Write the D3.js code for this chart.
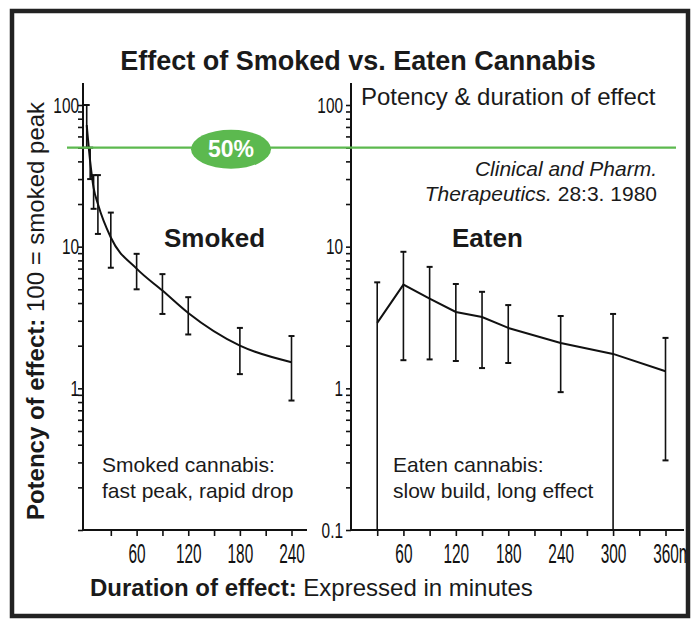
<!DOCTYPE html>
<html>
<head>
<meta charset="utf-8">
<script src="https://cdn.jsdelivr.net/npm/d3@7"></script>
<style>
    body { margin: 0; background: #fff; }
    svg { display: block; font-family: "Liberation Sans", Arial, Helvetica, sans-serif; }
</style>
</head>
<body>
<div id="chart"></div>
<script>
///// DATA //////
// Smoked cannabis: minutes, mean potency and error bar ends (100 = smoked peak)
let smokedTime = [2, 6, 10, 15, 30, 60, 90, 120, 180, 240];
let smokedMean = [72, 40, 26, 20, 11.6, 7.0, 4.9, 3.4, 2.0, 1.53];
let smokedLow  = [50, 30, 18.5, 12.3, 7.1, 5.0, 3.35, 2.4, 1.26, 0.82];
let smokedHigh = [100, 50, 32, 32, 17.4, 8.9, 6.4, 4.4, 2.67, 2.34];

// Eaten cannabis
let eatenTime = [30, 60, 90, 120, 150, 180, 240, 300, 360];
let eatenMean = [2.9, 5.4, 4.3, 3.46, 3.19, 2.67, 2.09, 1.75, 1.32];
let eatenLow  = [0.1, 1.58, 1.6, 1.56, 1.39, 1.51, 0.94, 0.1, 0.31];
let eatenHigh = [5.6, 9.2, 7.2, 5.45, 4.8, 3.87, 3.24, 3.35, 2.27];

// Ticks and labels
let smokedTicks = [30, 60, 90, 120, 150, 180, 210, 240];
let smokedLabels = [60, 120, 180, 240];
let eatenTicks = [30, 60, 90, 120, 150, 180, 210, 240, 270, 300, 330, 360];
let eatenLabels = [60, 120, 180, 240, 300, 360];
let smokedYLabels = [1, 10, 100];
let eatenYLabels = [0.1, 1, 10, 100];
let halfLevel = 50;

///// CHART //////
let svg = d3.select('#chart')
    .append('svg')
    .attr('width', 691)
    .attr('height', 619);

let defs = svg.append('defs');
defs.append('clipPath').attr('id', 'frameClip')
    .append('rect').attr('x', 0).attr('y', 0).attr('width', 686).attr('height', 619);

let y = d3.scaleLog().domain([0.1, 100]).range([530, 105]);
let xSmoked = d3.scaleLinear().domain([0, 240]).range([85, 291.5]);
let xEaten = d3.scaleLinear().domain([0, 360]).range([351, 665.5]);

let xScaleText = 0.57;

drawPanel(xSmoked, 83, 307, smokedTicks, smokedLabels, smokedYLabels, 4, '');
drawPanel(xEaten, 351, 684, eatenTicks, eatenLabels, eatenYLabels, 8, 'min');

drawSeries(xSmoked, smokedTime, smokedMean, smokedLow, smokedHigh, d3.curveMonotoneX);
drawSeries(xEaten, eatenTime, eatenMean, eatenLow, eatenHigh, d3.curveLinear);

function drawPanel(x, axisX, axisRight, ticks, labels, yLabels, yPad, lastSuffix) {
    //Eje Y
    let yAxis = d3.axisLeft(y)
        .tickValues(y.ticks())
        .tickSize(5)
        .tickFormat(function(d) {
            let hit = yLabels.find(v => Math.abs(v - d) < 1e-9);
            return hit === undefined ? '' : hit;
        });

    let gy = svg.append('g')
        .attr('transform', 'translate(' + axisX + ',0)')
        .call(yAxis);
    gy.select('.domain').remove();
    gy.selectAll('.tick line').attr('stroke', '#111').attr('stroke-width', 1.6);
    gy.selectAll('.tick text')
        .attr('font-size', 22)
        .attr('font-family', '"Liberation Sans", Arial, sans-serif')
        .attr('fill', '#111')
        .attr('transform', 'scale(0.7,1)')
        .attr('x', -yPad / 0.7);

    svg.append('line')
        .attr('x1', axisX).attr('x2', axisX)
        .attr('y1', 83).attr('y2', y(0.1))
        .attr('stroke', '#111').attr('stroke-width', 2);

    //Eje X
    let last = labels[labels.length - 1];
    let xAxis = d3.axisBottom(x)
        .tickValues(ticks)
        .tickSize(6)
        .tickPadding(8)
        .tickFormat(function(d) {
            if (!labels.includes(d)) return '';
            return d === last ? d + lastSuffix : d;
        });

    let gx = svg.append('g')
        .attr('clip-path', 'url(#frameClip)')
        .append('g')
        .attr('transform', 'translate(0,' + y(0.1) + ')')
        .call(xAxis);
    gx.select('.domain').remove();
    gx.selectAll('.tick line').attr('stroke', '#111').attr('stroke-width', 1.6);
    gx.selectAll('.tick text')
        .attr('font-size', 27)
        .attr('font-family', '"Liberation Sans", Arial, sans-serif')
        .attr('fill', '#111')
        .attr('transform', 'scale(' + xScaleText + ',1)');

    // the last label carries a unit that runs past the frame: keep its number centred
    if (lastSuffix) {
        gx.selectAll('.tick text')
            .filter(d => d === last)
            .attr('text-anchor', 'start')
            .attr('x', -0.556 * 27 * String(last).length / 2);
    }

    svg.append('line')
        .attr('x1', axisX).attr('x2', axisRight)
        .attr('y1', y(0.1)).attr('y2', y(0.1))
        .attr('stroke', '#111').attr('stroke-width', 2);
}

function drawSeries(x, time, mean, low, high, curve) {
    let points = time.map((t, i) => ({t: t, m: mean[i], lo: low[i], hi: high[i]}));

    let line = d3.line()
        .x(d => x(d.t))
        .y(d => y(d.m))
        .curve(curve);

    svg.append('path')
        .datum(points)
        .attr('fill', 'none')
        .attr('stroke', '#111')
        .attr('stroke-width', 2)
        .attr('d', line);

    let bars = svg.append('g').selectAll('g')
        .data(points)
        .enter().append('g');

    bars.append('line')
        .attr('x1', d => x(d.t)).attr('x2', d => x(d.t))
        .attr('y1', d => y(d.lo)).attr('y2', d => y(d.hi))
        .attr('stroke', '#111').attr('stroke-width', 1.6);

    bars.append('line')
        .attr('x1', d => x(d.t) - 3).attr('x2', d => x(d.t) + 3)
        .attr('y1', d => y(d.hi)).attr('y2', d => y(d.hi))
        .attr('stroke', '#111').attr('stroke-width', 2);

    bars.append('line')
        .attr('x1', d => x(d.t) - 3).attr('x2', d => x(d.t) + 3)
        .attr('y1', d => y(d.lo)).attr('y2', d => y(d.lo))
        .attr('stroke', '#111').attr('stroke-width', 2);
}

///// 50% LINE //////
let green = '#5cb94f';
svg.append('line')
    .attr('x1', 67).attr('x2', 676)
    .attr('y1', y(halfLevel)).attr('y2', y(halfLevel))
    .attr('stroke', green).attr('stroke-width', 2.2);

svg.append('ellipse')
    .attr('cx', 231).attr('cy', y(halfLevel) + 1.5)
    .attr('rx', 40).attr('ry', 19.5)
    .attr('fill', green);

svg.append('text')
    .attr('x', 231).attr('y', y(halfLevel) + 9.5)
    .attr('text-anchor', 'middle')
    .attr('font-size', 23).attr('font-weight', 'bold')
    .attr('fill', '#fff')
    .text('50%');

///// TEXTS //////
svg.append('text')
    .attr('x', 358).attr('y', 70)
    .attr('text-anchor', 'middle')
    .attr('font-size', 27).attr('font-weight', 'bold')
    .attr('fill', '#1a1a1a')
    .text('Effect of Smoked vs. Eaten Cannabis');

svg.append('text')
    .attr('x', 361).attr('y', 105)
    .attr('font-size', 24)
    .attr('fill', '#1a1a1a')
    .text('Potency & duration of effect');

svg.append('text')
    .attr('x', 657).attr('y', 176)
    .attr('text-anchor', 'end')
    .attr('font-size', 21).attr('font-style', 'italic')
    .attr('fill', '#1a1a1a')
    .text('Clinical and Pharm.');

let cite = svg.append('text')
    .attr('x', 657).attr('y', 201)
    .attr('text-anchor', 'end')
    .attr('font-size', 21)
    .attr('fill', '#1a1a1a');
cite.append('tspan').attr('font-style', 'italic').text('Therapeutics.');
cite.append('tspan').text(' 28:3. 1980');

svg.append('text')
    .attr('x', 164).attr('y', 247)
    .attr('font-size', 26).attr('font-weight', 'bold')
    .attr('fill', '#1a1a1a')
    .text('Smoked');

svg.append('text')
    .attr('x', 452).attr('y', 247)
    .attr('font-size', 26).attr('font-weight', 'bold')
    .attr('fill', '#1a1a1a')
    .text('Eaten');

let notes = [
    {x: 102, lines: ['Smoked cannabis:', 'fast peak, rapid drop']},
    {x: 393, lines: ['Eaten cannabis:', 'slow build, long effect']}
];
notes.forEach(function(n) {
    n.lines.forEach(function(l, i) {
        svg.append('text')
            .attr('x', n.x).attr('y', 472 + i * 26)
            .attr('font-size', 21)
            .attr('fill', '#1a1a1a')
            .text(l);
    });
});

let yTitle = svg.append('text')
    .attr('transform', 'translate(44,311) rotate(-90)')
    .attr('text-anchor', 'middle')
    .attr('font-size', 24)
    .attr('fill', '#1a1a1a');
yTitle.append('tspan').attr('font-weight', 'bold').text('Potency of effect:');
yTitle.append('tspan').text(' 100 = smoked peak');

let xTitle = svg.append('text')
    .attr('x', 90).attr('y', 596)
    .attr('font-size', 24)
    .attr('fill', '#1a1a1a');
xTitle.append('tspan').attr('font-weight', 'bold').text('Duration of effect:');
xTitle.append('tspan').text(' Expressed in minutes');

///// FRAME //////
svg.append('rect')
    .attr('x', 12).attr('y', 11)
    .attr('width', 676).attr('height', 605)
    .attr('fill', 'none')
    .attr('stroke', '#222')
    .attr('stroke-width', 4.5);
</script>
</body>
</html>
